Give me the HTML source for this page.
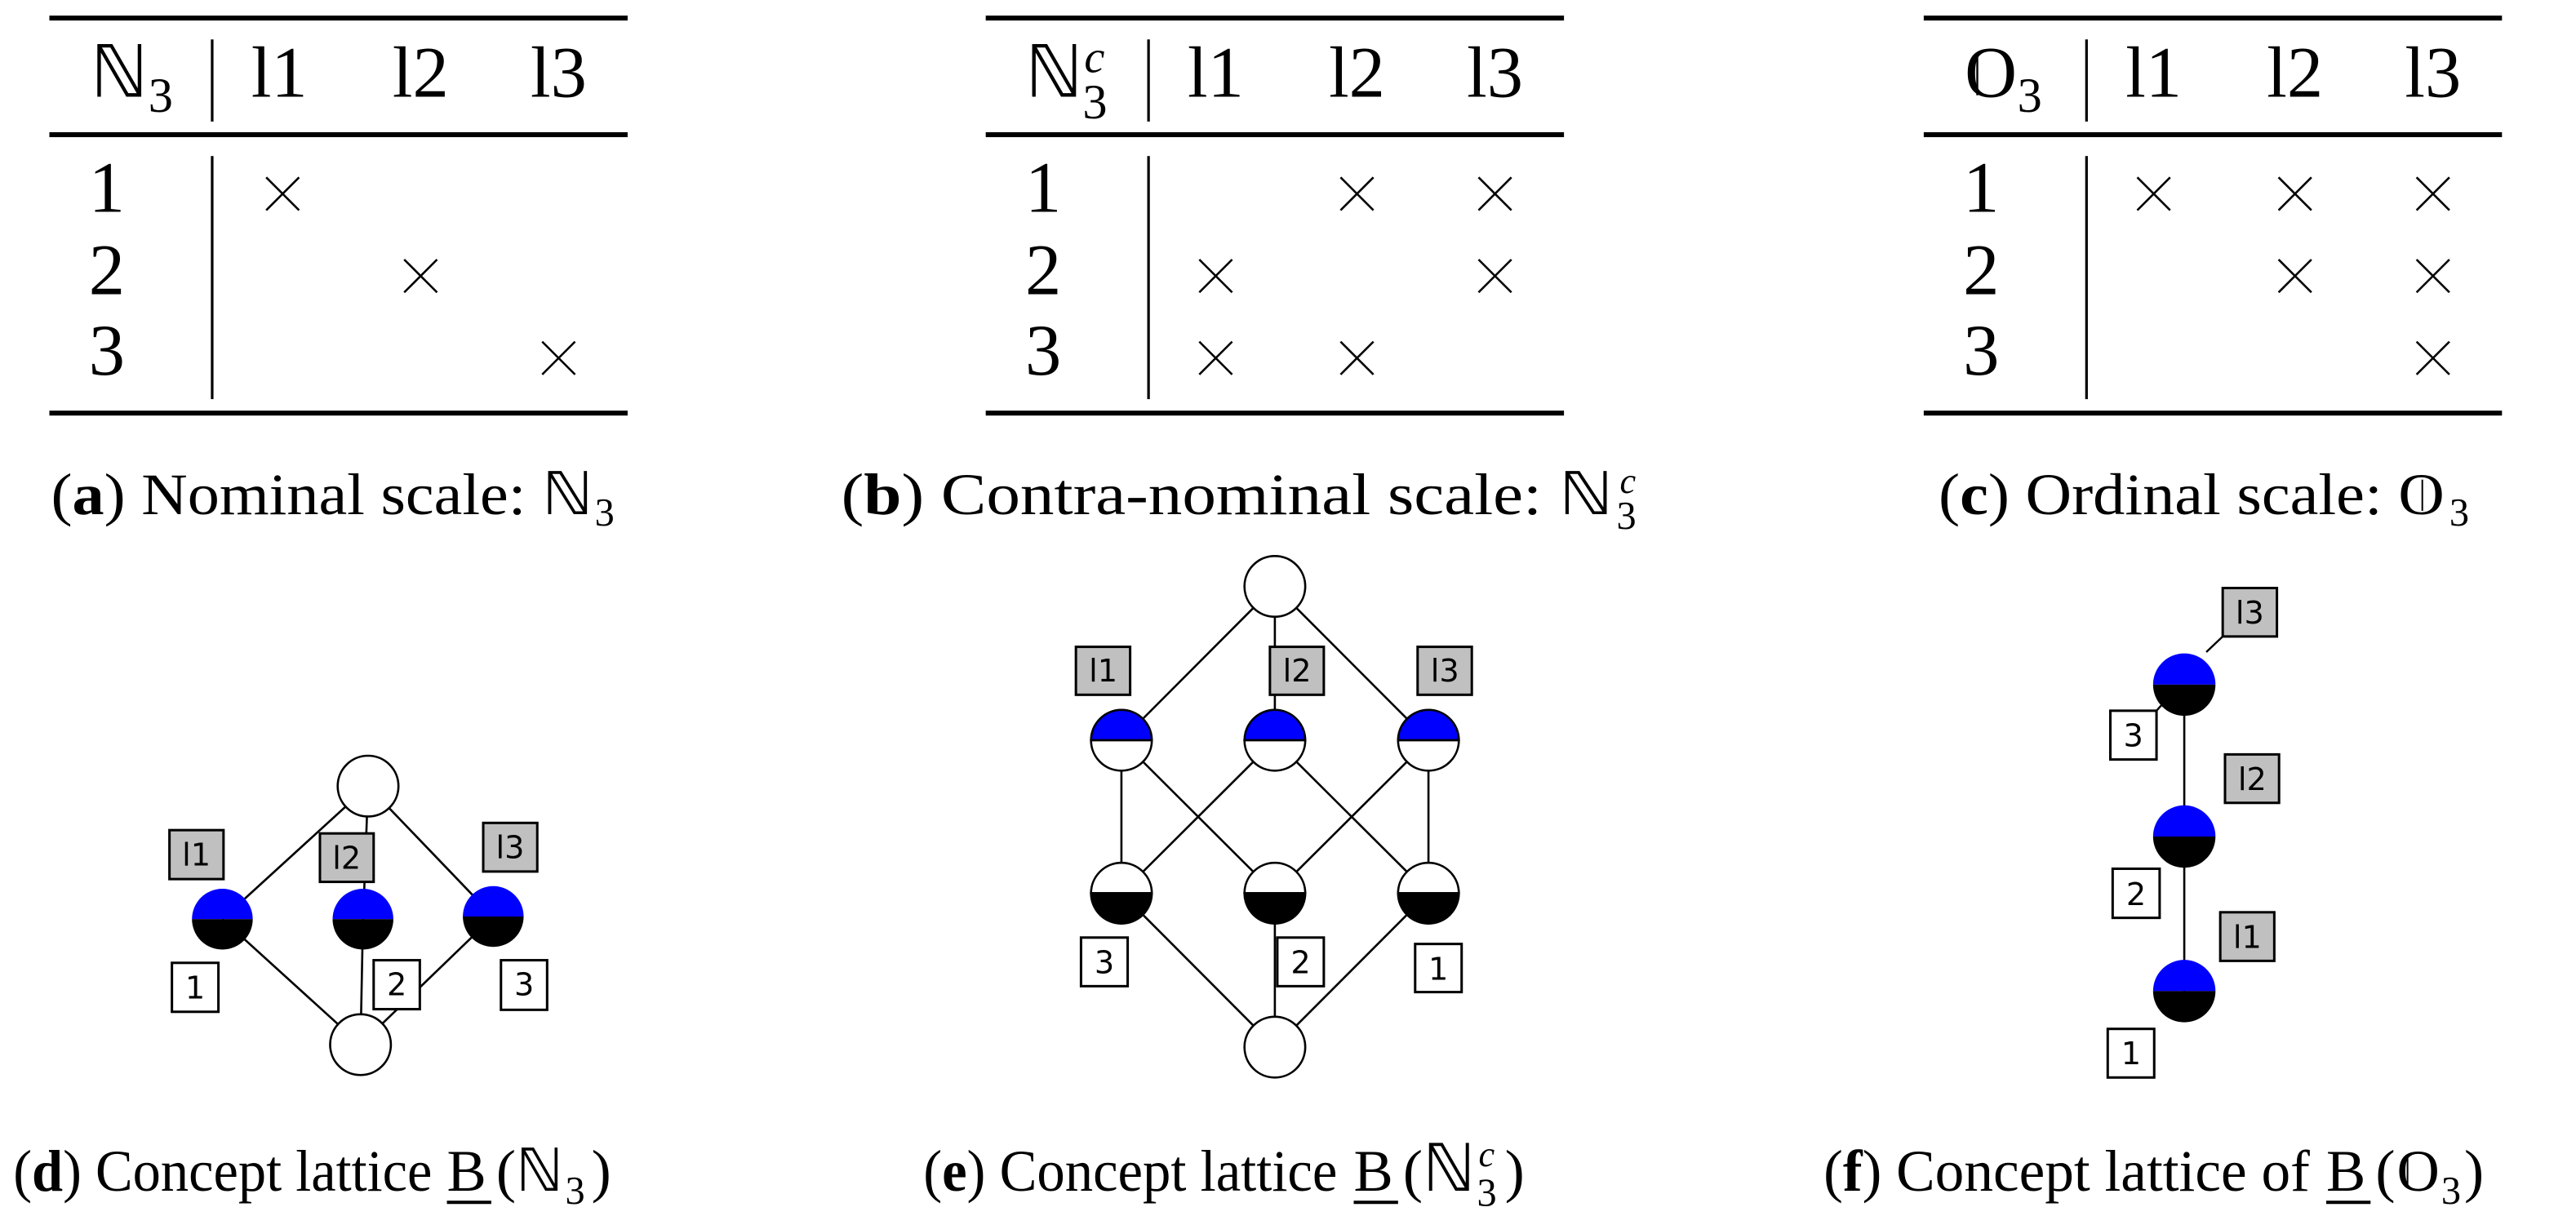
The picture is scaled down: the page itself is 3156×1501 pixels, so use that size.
<!DOCTYPE html>
<html><head><meta charset="utf-8"><style>html,body{margin:0;padding:0;background:#fff}svg{display:block}</style></head>
<body>
<svg xmlns="http://www.w3.org/2000/svg" width="3156" height="1501" viewBox="0 0 1568 745.8">
<defs>
<g id="x"><line x1="-10" y1="-10" x2="10" y2="10" stroke="#000" stroke-width="1.3"/><line x1="-10" y1="10" x2="10" y2="-10" stroke="#000" stroke-width="1.3"/></g>
</defs>
<g font-family="Liberation Serif, serif" fill="#000">
<!-- table a -->
<g>
<rect x="30" y="9.5" width="352" height="3"/><rect x="30" y="80.5" width="352" height="3"/><rect x="30" y="250" width="352" height="3"/>
<rect x="128.3" y="24" width="1.6" height="50"/><rect x="128.3" y="95" width="1.6" height="148"/>
<text x="55" y="59" font-size="44">ℕ<tspan font-size="30" dy="9">3</tspan></text>
<g font-size="44" text-anchor="middle"><text x="170" y="59">l1</text><text x="256" y="59">l2</text><text x="340" y="59">l3</text>
<text x="65" y="129">1</text><text x="65" y="179">2</text><text x="65" y="228">3</text></g>
<use href="#x" x="172" y="118"/><use href="#x" x="256" y="168"/><use href="#x" x="340" y="218"/>
</g>
<!-- table b -->
<g transform="translate(570,0)">
<rect x="30" y="9.5" width="352" height="3"/><rect x="30" y="80.5" width="352" height="3"/><rect x="30" y="250" width="352" height="3"/>
<rect x="128.3" y="24" width="1.6" height="50"/><rect x="128.3" y="95" width="1.6" height="148"/>
<text x="54" y="59" font-size="44">ℕ</text><text x="90" y="44" font-size="28" font-style="italic">c</text><text x="89" y="72" font-size="30">3</text>
<g font-size="44" text-anchor="middle"><text x="170" y="59">l1</text><text x="256" y="59">l2</text><text x="340" y="59">l3</text>
<text x="65" y="129">1</text><text x="65" y="179">2</text><text x="65" y="228">3</text></g>
<use href="#x" x="256" y="118"/><use href="#x" x="340" y="118"/><use href="#x" x="170" y="168"/><use href="#x" x="340" y="168"/><use href="#x" x="170" y="218"/><use href="#x" x="256" y="218"/>
</g>
<!-- table c -->
<g transform="translate(1141,0)">
<rect x="30" y="9.5" width="352" height="3"/><rect x="30" y="80.5" width="352" height="3"/><rect x="30" y="250" width="352" height="3"/>
<rect x="128.3" y="24" width="1.6" height="50"/><rect x="128.3" y="95" width="1.6" height="148"/>
<text x="55" y="59" font-size="44">O</text><rect x="62" y="34" width="1.2" height="24"/><text x="87" y="68" font-size="30">3</text>
<g font-size="44" text-anchor="middle"><text x="170" y="59">l1</text><text x="256" y="59">l2</text><text x="340" y="59">l3</text>
<text x="65" y="129">1</text><text x="65" y="179">2</text><text x="65" y="228">3</text></g>
<use href="#x" x="170" y="118"/><use href="#x" x="256" y="118"/><use href="#x" x="340" y="118"/><use href="#x" x="256" y="168"/><use href="#x" x="340" y="168"/><use href="#x" x="340" y="218"/>
</g>
<!-- captions top -->
<g font-size="36">
<text x="31" y="313" textLength="330" lengthAdjust="spacingAndGlyphs">(<tspan font-weight="bold">a</tspan>) Nominal scale: ℕ</text><text x="362" y="320" font-size="24">3</text>
<text x="512" y="313" textLength="470" lengthAdjust="spacingAndGlyphs">(<tspan font-weight="bold">b</tspan>) Contra-nominal scale: ℕ</text><text x="986" y="300" font-size="22" font-style="italic">c</text><text x="984" y="322" font-size="24">3</text>
<text x="1180" y="313" textLength="308" lengthAdjust="spacingAndGlyphs">(<tspan font-weight="bold">c</tspan>) Ordinal scale: O</text><rect x="1474" y="292" width="1" height="19"/><text x="1491" y="320" font-size="24">3</text>
</g>
<!-- captions bottom -->
<g font-size="36">
<text x="8" y="725" textLength="255" lengthAdjust="spacingAndGlyphs">(<tspan font-weight="bold">d</tspan>) Concept lattice</text>
<text x="272" y="725">B</text><rect x="272" y="731" width="27" height="2"/>
<text x="302" y="725">(ℕ</text><text x="344" y="733" font-size="24">3</text><text x="360" y="725">)</text>
<text x="562" y="725" textLength="252" lengthAdjust="spacingAndGlyphs">(<tspan font-weight="bold">e</tspan>) Concept lattice</text>
<text x="824" y="725">B</text><rect x="824" y="731" width="27" height="2"/>
<text x="854" y="725">(</text><text x="866" y="725" font-size="40">ℕ</text><text x="900" y="710" font-size="22" font-style="italic">c</text><text x="899" y="734" font-size="24">3</text><text x="916" y="725">)</text>
<text x="1110" y="725" textLength="296" lengthAdjust="spacingAndGlyphs">(<tspan font-weight="bold">f</tspan>) Concept lattice of</text>
<text x="1416" y="725">B</text><rect x="1416" y="731" width="27" height="2"/>
<text x="1446" y="725">(</text><text x="1459" y="725">O</text><rect x="1465" y="704" width="1" height="19"/><text x="1486" y="733" font-size="24">3</text><text x="1500" y="725">)</text>
</g>
</g>
<!-- lattice d -->
<g stroke="#000" stroke-width="1.3" fill="none">
<line x1="224" y1="478.6" x2="135.3" y2="559.6"/><line x1="224" y1="478.6" x2="300.2" y2="558"/><line x1="224" y1="478.6" x2="221" y2="559.6"/>
<line x1="135.3" y1="559.6" x2="219.4" y2="636"/><line x1="220.9" y1="559.6" x2="219.4" y2="636"/><line x1="300.2" y1="558" x2="219.4" y2="636"/>
</g>
<g font-family="DejaVu Sans, sans-serif" font-size="19" text-anchor="middle">
<circle cx="224" cy="478.6" r="18.5" fill="#fff" stroke="#000" stroke-width="1.3"/>
<circle cx="219.4" cy="636" r="18.5" fill="#fff" stroke="#000" stroke-width="1.3"/>
<path d="M116.8 559.6 a18.5 18.5 0 0 1 37 0z" fill="#0000ff"/><path d="M116.8 559.6 a18.5 18.5 0 0 0 37 0z" fill="#000"/>
<path d="M202.4 559.6 a18.5 18.5 0 0 1 37 0z" fill="#0000ff"/><path d="M202.4 559.6 a18.5 18.5 0 0 0 37 0z" fill="#000"/>
<path d="M281.7 558 a18.5 18.5 0 0 1 37 0z" fill="#0000ff"/><path d="M281.7 558 a18.5 18.5 0 0 0 37 0z" fill="#000"/>
<g stroke="#000" stroke-width="1.5">
<rect x="103.1" y="505.4" width="32.9" height="29.8" fill="#c0c0c0"/>
<rect x="194.7" y="507.4" width="32.7" height="29.5" fill="#c0c0c0"/>
<rect x="294.1" y="501" width="32.9" height="29.6" fill="#c0c0c0"/>
<rect x="104.6" y="586.2" width="28.3" height="29.8" fill="#fff"/>
<rect x="227.4" y="584.6" width="28.1" height="29.8" fill="#fff"/>
<rect x="304.9" y="584.6" width="28.1" height="30.2" fill="#fff"/>
</g>
<text x="119.5" y="527">l1</text><text x="211" y="529">l2</text><text x="310.5" y="522.5">l3</text>
<text x="118.7" y="608">1</text><text x="241.5" y="606">2</text><text x="319" y="606">3</text>
</g>
<!-- lattice e -->
<g stroke="#000" stroke-width="1.3" fill="none">
<line x1="776" y1="357" x2="682.6" y2="450.7"/><line x1="776" y1="357" x2="776" y2="450.7"/><line x1="776" y1="357" x2="869.5" y2="450.7"/>
<line x1="682.6" y1="450.7" x2="682.6" y2="543.8"/><line x1="682.6" y1="450.7" x2="776" y2="543.8"/>
<line x1="776" y1="450.7" x2="682.6" y2="543.8"/><line x1="776" y1="450.7" x2="869.5" y2="543.8"/>
<line x1="869.5" y1="450.7" x2="776" y2="543.8"/><line x1="869.5" y1="450.7" x2="869.5" y2="543.8"/>
<line x1="682.6" y1="543.8" x2="776" y2="637.5"/><line x1="776" y1="543.8" x2="776" y2="637.5"/><line x1="869.5" y1="543.8" x2="776" y2="637.5"/>
</g>
<g font-family="DejaVu Sans, sans-serif" font-size="19" text-anchor="middle">
<circle cx="776" cy="357" r="18.5" fill="#fff" stroke="#000" stroke-width="1.3"/>
<circle cx="776" cy="637.5" r="18.5" fill="#fff" stroke="#000" stroke-width="1.3"/>
<g stroke="#000" stroke-width="1.3">
<path d="M664.1 450.7 a18.5 18.5 0 0 1 37 0z" fill="#0000ff"/><path d="M664.1 450.7 a18.5 18.5 0 0 0 37 0z" fill="#fff"/>
<path d="M757.5 450.7 a18.5 18.5 0 0 1 37 0z" fill="#0000ff"/><path d="M757.5 450.7 a18.5 18.5 0 0 0 37 0z" fill="#fff"/>
<path d="M851 450.7 a18.5 18.5 0 0 1 37 0z" fill="#0000ff"/><path d="M851 450.7 a18.5 18.5 0 0 0 37 0z" fill="#fff"/>
<path d="M664.1 543.8 a18.5 18.5 0 0 1 37 0z" fill="#fff"/><path d="M664.1 543.8 a18.5 18.5 0 0 0 37 0z" fill="#000"/>
<path d="M757.5 543.8 a18.5 18.5 0 0 1 37 0z" fill="#fff"/><path d="M757.5 543.8 a18.5 18.5 0 0 0 37 0z" fill="#000"/>
<path d="M851 543.8 a18.5 18.5 0 0 1 37 0z" fill="#fff"/><path d="M851 543.8 a18.5 18.5 0 0 0 37 0z" fill="#000"/>
</g>
<g stroke="#000" stroke-width="1.5">
<rect x="654.9" y="393.8" width="33" height="29.2" fill="#c0c0c0"/>
<rect x="773" y="393.8" width="32.8" height="29.2" fill="#c0c0c0"/>
<rect x="862.9" y="393.8" width="33" height="29.2" fill="#c0c0c0"/>
<rect x="658" y="570.8" width="28.4" height="29.6" fill="#fff"/>
<rect x="777.5" y="570.8" width="28.3" height="29.6" fill="#fff"/>
<rect x="861.4" y="574.7" width="28.3" height="29.3" fill="#fff"/>
</g>
<text x="671.5" y="415">l1</text><text x="789.5" y="415">l2</text><text x="879.5" y="415">l3</text>
<text x="672.2" y="592.5">3</text><text x="791.7" y="592.5">2</text><text x="875.5" y="596.5">1</text>
</g>
<!-- lattice f -->
<line x1="1329.6" y1="416.8" x2="1329.6" y2="603.4" stroke="#000" stroke-width="1.3"/>
<g font-family="DejaVu Sans, sans-serif" font-size="19" text-anchor="middle">
<path d="M1310.6 416.8 a19 19 0 0 1 38 0z" fill="#0000ff"/><path d="M1310.6 416.8 a19 19 0 0 0 38 0z" fill="#000"/>
<path d="M1310.6 509.3 a19 19 0 0 1 38 0z" fill="#0000ff"/><path d="M1310.6 509.3 a19 19 0 0 0 38 0z" fill="#000"/>
<path d="M1310.6 603.4 a19 19 0 0 1 38 0z" fill="#0000ff"/><path d="M1310.6 603.4 a19 19 0 0 0 38 0z" fill="#000"/>
<g stroke="#000" stroke-width="1.5">
<rect x="1353" y="358" width="33" height="29.5" fill="#c0c0c0"/>
<rect x="1354.4" y="459.3" width="32.9" height="29.5" fill="#c0c0c0"/>
<rect x="1351.5" y="555.4" width="32.9" height="29.6" fill="#c0c0c0"/>
<rect x="1284.6" y="432.7" width="28.1" height="29.7" fill="#fff"/>
<rect x="1286" y="528.9" width="28.6" height="29.9" fill="#fff"/>
<rect x="1283" y="626.4" width="28.3" height="29.6" fill="#fff"/>
</g>
<g stroke="#000" stroke-width="1.2"><line x1="1353" y1="387.5" x2="1343" y2="397"/><line x1="1312.7" y1="432.7" x2="1316" y2="429"/></g>
<text x="1369.5" y="379.5">l3</text><text x="1371" y="481">l2</text><text x="1368" y="577">l1</text>
<text x="1298.6" y="454.5">3</text><text x="1300.3" y="551">2</text><text x="1297.2" y="648">1</text>
</g>
</svg>
</body></html>
